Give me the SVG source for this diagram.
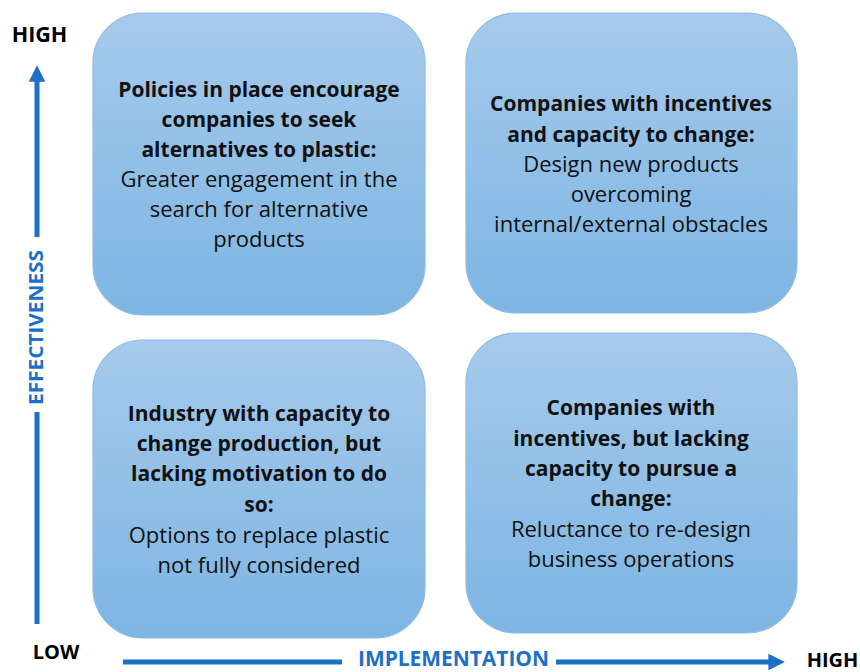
<svg xmlns="http://www.w3.org/2000/svg" width="860" height="672" viewBox="0 0 860 672">
  <defs>
    <linearGradient id="boxFill" x1="0" y1="0" x2="0" y2="1">
      <stop offset="0" stop-color="#a6caeb"/>
      <stop offset="1" stop-color="#7db5e3"/>
    </linearGradient>
    <marker id="axisHead" viewBox="0 0 10 10" refX="1" refY="5" markerWidth="3.3" markerHeight="3.3" markerUnits="strokeWidth" orient="auto">
      <path d="M0,0 L10,5 L0,10 Z" fill="#1c70c8"/>
    </marker>
  </defs>
  <style>
    .box { fill: url(#boxFill); stroke: #8dbbe2; stroke-width: 1.2; }
    .t { font-family: "Open Sans", "Liberation Sans", sans-serif; font-size: 22px; fill: #111; text-anchor: middle; }
    .b { font-weight: bold; font-size: 21px; }
    .axis { stroke: #1c70c8; stroke-width: 5; fill: none; }
    .axisLabel { font-family: "Open Sans", "Liberation Sans", sans-serif; font-weight: bold; fill: #1c70c8; text-anchor: middle; }
    .end { font-family: "Open Sans", "Liberation Sans", sans-serif; font-weight: bold; fill: #000; text-anchor: middle; }
  </style>
  <rect width="860" height="672" fill="#ffffff"/>

  <!-- axes -->
  <g id="connectors">
    <line class="axis" x1="37" y1="237" x2="37" y2="80" marker-end="url(#axisHead)"/>
    <line class="axis" x1="37" y1="412" x2="37" y2="624"/>
    <line class="axis" x1="123" y1="662" x2="342" y2="662"/>
    <line class="axis" x1="556" y1="662" x2="770" y2="662" marker-end="url(#axisHead)"/>
  </g>

  <g id="axis-labels">
    <text class="end" x="39.5" y="42" font-size="21.5">HIGH</text>
    <text class="end" x="56" y="659" font-size="20">LOW</text>
    <text class="end" x="832.5" y="667" font-size="20">HIGH</text>
    <text class="axisLabel" x="453.5" y="666" font-size="22" textLength="191" lengthAdjust="spacingAndGlyphs">IMPLEMENTATION</text>
    <text class="axisLabel" transform="translate(43,327.5) rotate(-90)" font-size="19.5" textLength="155" lengthAdjust="spacingAndGlyphs">EFFECTIVENESS</text>
  </g>

  <g id="q-top-left">
    <rect class="box" x="93" y="13" width="332" height="302" rx="50"/>
    <text class="t b" x="259" y="96.5">Policies in place encourage</text>
    <text class="t b" x="259" y="126.5">companies to seek</text>
    <text class="t b" x="259" y="156.5">alternatives to plastic:</text>
    <text class="t" x="259" y="187">Greater engagement in the</text>
    <text class="t" x="259" y="217">search for alternative</text>
    <text class="t" x="259" y="247">products</text>
  </g>

  <g id="q-top-right">
    <rect class="box" x="466" y="13" width="331" height="300" rx="50"/>
    <text class="t b" x="631" y="111">Companies with incentives</text>
    <text class="t b" x="631" y="141.5">and capacity to change:</text>
    <text class="t" x="631" y="171.5">Design new products</text>
    <text class="t" x="631" y="201.5">overcoming</text>
    <text class="t" x="631" y="231.5">internal/external obstacles</text>
  </g>

  <g id="q-bottom-left">
    <rect class="box" x="93" y="340" width="332" height="298" rx="50"/>
    <text class="t b" x="259" y="421">Industry with capacity to</text>
    <text class="t b" x="259" y="451">change production, but</text>
    <text class="t b" x="259" y="481">lacking motivation to do</text>
    <text class="t b" x="259" y="512">so:</text>
    <text class="t" x="259" y="543">Options to replace plastic</text>
    <text class="t" x="259" y="573">not fully considered</text>
  </g>

  <g id="q-bottom-right">
    <rect class="box" x="466" y="333" width="331" height="300" rx="50"/>
    <text class="t b" x="631" y="415">Companies with</text>
    <text class="t b" x="631" y="446">incentives, but lacking</text>
    <text class="t b" x="631" y="476">capacity to pursue a</text>
    <text class="t b" x="631" y="506">change:</text>
    <text class="t" x="631" y="537">Reluctance to re-design</text>
    <text class="t" x="631" y="567">business operations</text>
  </g>
</svg>
